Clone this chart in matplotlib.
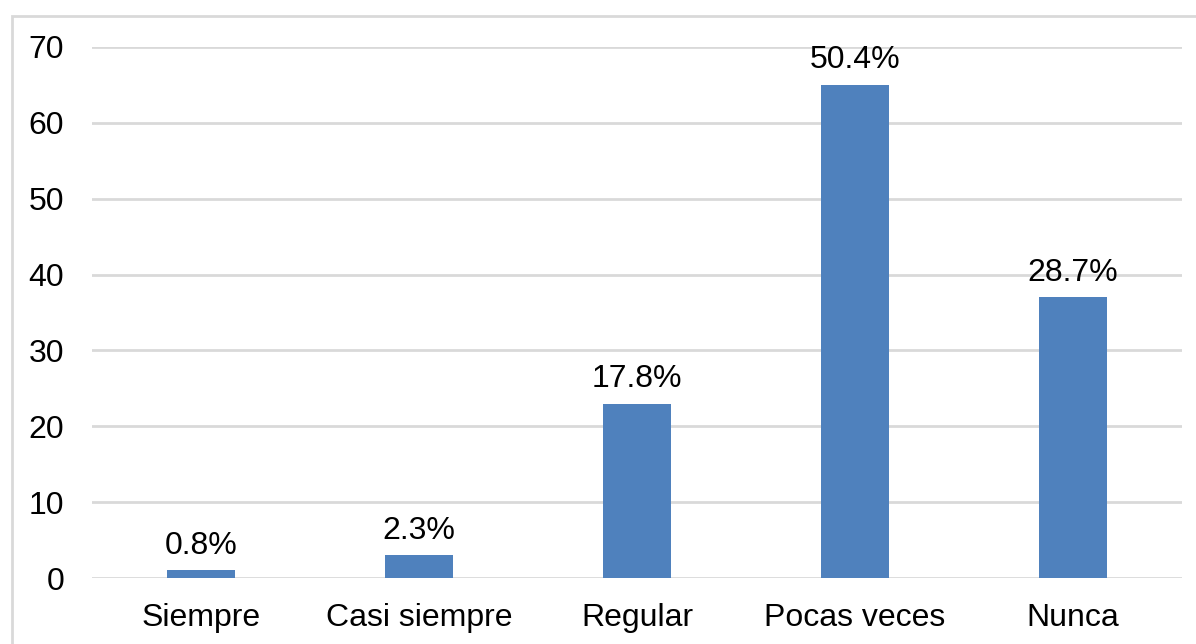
import matplotlib
matplotlib.use("Agg")
import matplotlib.pyplot as plt
from matplotlib.patches import Rectangle

# datos
categorias = ["Siempre", "Casi siempre", "Regular", "Pocas veces", "Nunca"]
frecuencias = [1, 3, 23, 65, 37]
etiquetas = ["0.8%", "2.3%", "17.8%", "50.4%", "28.7%"]
ticks_y = [0, 10, 20, 30, 40, 50, 60, 70]

plt.rcParams['font.family'] = ['Liberation Sans', 'DejaVu Sans']

fig = plt.figure(figsize=(11.96, 6.44), dpi=100)
ax = fig.add_axes([92 / 1196, 1 - 578 / 644, (1182 - 92) / 1196, (578 - 47) / 644])

x = list(range(len(categorias)))
barras = ax.bar(x, frecuencias, width=0.31, color='#4f81bd', zorder=3)

for b, txt in zip(barras, etiquetas):
    ax.annotate(txt, (b.get_x() + b.get_width() / 2, b.get_height()),
                xytext=(0, 7), textcoords='offset points',
                ha='center', va='bottom', fontsize=23, color='black')

ax.set_xlim(-0.5, len(categorias) - 0.5)
ax.set_ylim(0, 70)
ax.set_yticks(ticks_y)
ax.set_xticks(x)
ax.set_xticklabels(categorias)
ax.tick_params(axis='both', length=0, labelsize=23, colors='black')
ax.tick_params(axis='y', pad=20)
ax.tick_params(axis='x', pad=18)
ax.grid(axis='y', color='#d9d9d9', linewidth=2, zorder=0)
for s in ax.spines.values():
    s.set_visible(False)

# marco exterior
fig.patches.append(Rectangle((12 / 1196, -0.1), 1.2, 1 - 16 / 644 + 0.1,
                             transform=fig.transFigure, fill=False,
                             edgecolor='#d9d9d9', linewidth=2, clip_on=False))

fig.savefig("out.png", dpi=100)
